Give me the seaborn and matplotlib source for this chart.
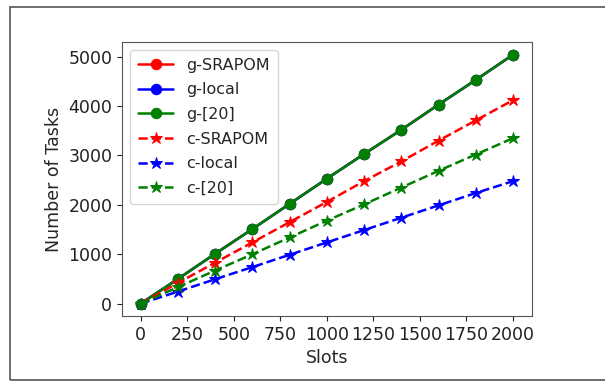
import matplotlib
matplotlib.use("Agg")
import matplotlib.pyplot as plt
import matplotlib.patches as mpatches
import seaborn as sns
import pandas as pd

# ─── Data ─────────────────────────────────────────────────────────────────────
slots = [0, 200, 400, 600, 800, 1000, 1200, 1400, 1600, 1800, 2000]
g_srapom = [0, 500, 1010, 1510, 2020, 2530, 3030, 3520, 4030, 4530, 5040]
g_local = [0, 500, 1010, 1510, 2020, 2530, 3030, 3520, 4030, 4530, 5040]
g_ref20 = [0, 500, 1010, 1510, 2020, 2530, 3030, 3520, 4030, 4530, 5040]
c_srapom = [0, 420, 830, 1240, 1650, 2060, 2480, 2880, 3300, 3710, 4120]
c_local = [0, 245, 495, 740, 990, 1240, 1490, 1740, 1990, 2240, 2480]
c_ref20 = [0, 335, 670, 1000, 1340, 1680, 2010, 2350, 2690, 3020, 3350]

labels = ["g-SRAPOM", "g-local", "g-[20]", "c-SRAPOM", "c-local", "c-[20]"]
series = [g_srapom, g_local, g_ref20, c_srapom, c_local, c_ref20]
colors = ["red", "blue", "green", "red", "blue", "green"]

sns.set_style("ticks")
plt.rcParams["font.family"] = ["DejaVu Sans"]

fig = plt.figure(figsize=(6.05, 3.81), dpi=100)
ax = fig.add_axes([0.2017, 0.1706, 0.677, 0.7194])

for lab, vals, col in zip(labels, series, colors):
    df = pd.DataFrame({"Slots": slots, "Tasks": vals})
    is_g = lab.startswith("g-")
    sns.lineplot(data=df, x="Slots", y="Tasks", ax=ax, color=col, label=lab,
                 marker="o" if is_g else "*",
                 markersize=7.5 if is_g else 9,
                 markeredgecolor=col,
                 linestyle="-" if is_g else "--",
                 linewidth=1.8)

ax.set_xlabel("Slots", fontsize=12.5)
ax.set_ylabel("Number of Tasks", fontsize=12.5)
ax.set_xticks([0, 250, 500, 750, 1000, 1250, 1500, 1750, 2000])
ax.set_yticks([0, 1000, 2000, 3000, 4000, 5000])
ax.set_xlim(-100, 2100)
ax.set_ylim(-250, 5300)
ax.tick_params(labelsize=12.5, colors="#222222")
for sp in ax.spines.values():
    sp.set_color("#555555")
    sp.set_visible(True)

ax.legend(loc="upper left", fontsize=11.5, frameon=True, handlelength=2.2,
          borderpad=0.5, labelspacing=0.6)

# outer frame
fig.patches.append(mpatches.Rectangle((0.017, 0.003), 1.2, 0.979,
                                      transform=fig.transFigure, fill=False,
                                      edgecolor="#555555", linewidth=1.2))

fig.savefig("out.png", dpi=100)
